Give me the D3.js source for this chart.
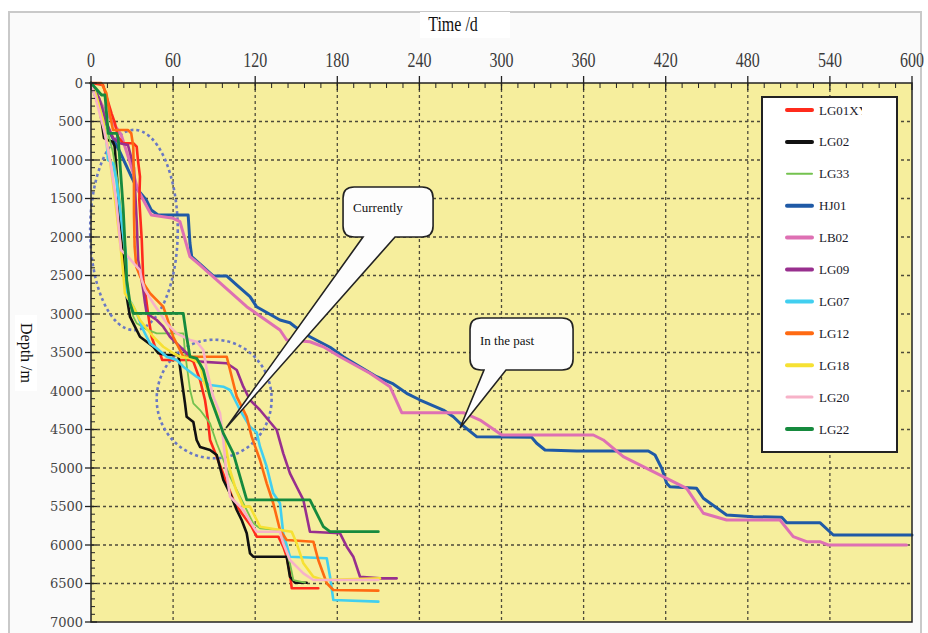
<!DOCTYPE html>
<html><head><meta charset="utf-8">
<script src="https://cdn.jsdelivr.net/npm/d3@7"></script>
<style>body{margin:0;background:#fff}svg{display:block}</style>
</head><body>
<svg id="c" width="928" height="633"></svg>
<script>
// ---------------- data ----------------
const wells = ["LG01XY","LG02","LG33","HJ01","LB02","LG09","LG07","LG12","LG18","LG20","LG22"];
const xTicks = [0,60,120,180,240,300,360,420,480,540,600];
const yTicks = [0,500,1000,1500,2000,2500,3000,3500,4000,4500,5000,5500,6000,6500,7000];

const LG01XY = [[0,0],[8.8,26],[15,394],[17.5,523],[19.7,697],[23.4,783],[30.9,783],[33.4,827],[34.3,1000],[35.8,1217],[35.3,1519],[37.1,2039],[38.2,2558],[39.5,2700],[41,2900],[42,3035],[43.1,3165],[44.3,3295],[46.8,3425],[50.4,3510],[52,3597],[72.4,3597],[74.8,3619],[79.7,3857],[83.3,4117],[85.5,4377],[87,4636],[91.9,4853],[99.2,5199],[104,5415],[110.1,5588],[117.4,5762],[121.1,5892],[136.9,5892],[140.5,6022],[143,6152],[145.4,6368],[146.7,6562],[166.1,6562]];
const LG02 = [[0,0],[6.6,351],[9.5,714],[12.4,740],[16.1,766],[17.3,827],[21.9,1909],[26.1,2775],[28.5,3035],[30.9,3121],[35.8,3295],[40.7,3360],[45.5,3425],[49.2,3510],[55.3,3532],[63.8,3532],[65,3684],[66.3,3857],[68.7,4160],[69.9,4334],[74.8,4403],[77.2,4636],[79.7,4727],[87,4766],[91.9,4831],[96.7,5156],[101.6,5329],[106.5,5545],[110.1,5675],[113.8,5848],[116.2,6108],[118.6,6152],[143,6152],[145.4,6412],[149.1,6490],[157.6,6490]];
const LG33 = [[0,0],[5,150],[10,400],[12.4,650],[16,900],[19.7,1300],[22.5,1800],[25,2300],[27,2700],[28.5,2861],[30.9,3035],[33.4,3121],[40.7,3200],[48,3251],[67.5,3251],[68.7,3500],[72.4,3987],[74.8,4160],[79.7,4247],[87,4420],[89.4,4549],[91.9,4679],[101.6,5113],[108.9,5372],[118.6,5718],[123.5,5783],[138.1,5805],[145.4,6238],[147.9,6455],[156.4,6490]];
const HJ01 = [[0,0],[3,150],[8,400],[14,650],[21,892],[29.5,1217],[34.3,1390],[40.4,1519],[44,1649],[49,1714],[71,1714],[72.3,2078],[73.6,2255],[89.3,2506],[99.1,2506],[106.4,2623],[116.2,2775],[121,2905],[138.1,3078],[145.4,3113],[149.1,3165],[160,3295],[174.7,3432],[184.4,3555],[196.6,3684],[208.8,3814],[220.9,3909],[230.7,4030],[240.5,4117],[257.5,4247],[264.8,4334],[269.7,4419],[281.8,4593],[322,4601],[325.7,4679],[331.8,4766],[355,4779],[407.3,4779],[412.2,4831],[417.1,5004],[420.7,5199],[423.1,5243],[442.6,5264],[447.5,5393],[464.5,5610],[484,5632],[504.8,5640],[508.4,5710],[532.7,5710],[542.5,5870],[600,5870]];
const LB02 = [[0,0],[4,150],[10,350],[17.3,545],[22.1,675],[29.5,1087],[34.3,1390],[44.1,1714],[60.1,1757],[65,1801],[72.3,2256],[79.7,2364],[90.6,2536],[113.8,2905],[138.1,3208],[143,3338],[160,3360],[169.8,3425],[182,3555],[203.9,3770],[218.5,3944],[227.1,4282],[272.1,4282],[284.3,4377],[300.2,4571],[367.1,4571],[374.4,4636],[389,4853],[420.7,5134],[435.3,5264],[447.5,5588],[464.5,5675],[503.5,5675],[513.2,5892],[523,5957],[532.7,5957],[538.8,6000],[596,6000]];
const LG09 = [[0,0],[6,200],[11,500],[16.1,714],[21,783],[27,805],[31.4,1100],[33.4,1800],[34.5,2300],[35.8,2429],[38.2,2688],[39.5,2861],[40.7,2991],[48,3078],[52.8,3165],[57.7,3295],[62.6,3381],[69.9,3510],[72.4,3575],[79.7,3619],[99.2,3640],[106.5,3727],[111.3,3944],[116.2,4117],[123.5,4247],[135.7,4506],[140.5,4809],[145.4,5069],[150.3,5243],[155.2,5415],[160,5827],[182,5848],[186.9,6022],[191.7,6152],[196.6,6412],[211.2,6433],[223.4,6433]];
const LG07 = [[0,0],[1.5,26],[7.5,394],[11.2,697],[12.4,1000],[16.1,1043],[18.5,1260],[21,1607],[23.4,1952],[25.8,2256],[26.1,2775],[29.7,2861],[33.4,2991],[38.2,3208],[43.1,3381],[48,3445],[55.3,3555],[62.6,3597],[67.5,3684],[77.2,3814],[87,3922],[96.7,3944],[101.6,3987],[108.9,4247],[116.2,4464],[121.1,4540],[123.5,4723],[128.4,4983],[133.2,5329],[138.1,5458],[140.5,5848],[145.4,6152],[172.3,6173],[174.7,6412],[177.1,6714],[210,6736]];
const LG12 = [[0,0],[7.5,0],[11.2,130],[13.6,394],[16.1,610],[27,610],[29.4,653],[30.9,827],[31.4,1300],[31.4,1692],[31.9,2126],[33.1,2386],[35.8,2506],[38.2,2597],[43.1,2731],[50.4,2861],[52.8,2905],[55.3,3035],[60.1,3295],[67.5,3555],[99.2,3555],[101.6,3727],[106.5,4074],[113.8,4334],[117.4,4593],[123.5,4896],[128.4,5199],[133.2,5458],[138.1,5805],[143,5935],[162.5,5957],[166.1,6195],[172.3,6497],[177.1,6584],[210,6593]];
const LG18 = [[0,0],[3.7,156],[8.8,481],[13.9,1000],[18.5,1649],[21.9,2169],[23.4,2429],[24.8,2731],[30.9,2905],[35.8,3078],[45.5,3295],[52.8,3425],[60.1,3510],[65,3555],[72.4,3575],[79.7,3640],[82.1,3857],[87,4074],[91.9,4290],[96.7,4549],[101.6,5026],[106,5286],[111.3,5502],[116.2,5502],[123.5,5762],[138.1,5805],[146.7,5827],[150.3,5978],[155.2,6238],[162.5,6412],[169.8,6455],[211.2,6433]];
const LG20 = [[0,0],[3.7,221],[9.5,610],[13.9,1000],[18.3,1519],[21.9,2169],[27,2256],[32.1,2360],[35.8,2429],[37.1,2558],[39.5,2688],[45.5,2861],[50.4,2991],[55.3,3121],[62.6,3251],[72.4,3338],[77.2,3360],[82.1,3468],[84.6,3727],[89.4,4074],[94.3,4290],[96.7,4636],[98.7,5026],[101.6,5372],[111.3,5545],[118.6,5762],[121.1,5827],[138.1,5827],[140.5,5978],[145.4,6195],[155.2,6368],[162.5,6455],[210,6455]];
const LG22 = [[0,0],[7.7,156],[10.2,156],[12.6,653],[18.8,653],[19.9,718],[23.6,1649],[26.1,2558],[28.5,2861],[30.9,2991],[67.4,2991],[69.9,3295],[72.3,3555],[77.2,3575],[82.1,3727],[87,4074],[96.7,4549],[104,4809],[108.9,5113],[113.8,5415],[160,5415],[169.8,5762],[174.7,5827],[210,5827]];

const seriesValues = [LG01XY,LG02,LG33,HJ01,LB02,LG09,LG07,LG12,LG18,LG20,LG22];
const colors = ["#ff2b1c","#111111","#74c24f","#1f5aa6","#de70b3","#982f8e","#41cff0","#ff6a12","#f6e133","#f7b2c8","#168a3e"];
const widths = [2.6,2.6,1.8,3,3,2.6,2.6,2.6,2.6,2.6,2.8];

// ---------------- layout ----------------
const svg = d3.select("#c");
const x = d3.scaleLinear().domain([0,600]).range([91,912]);
const y = d3.scaleLinear().domain([0,7000]).range([83,622]);

svg.append("rect").attr("x",9).attr("y",12).attr("width",912).attr("height",640)
  .attr("fill","#fafafa").attr("stroke","#c9c9c9").attr("stroke-width",2);

// plot background
svg.append("rect").attr("x",x(0)).attr("y",y(0)).attr("width",x(600)-x(0)).attr("height",y(7000)-y(0))
  .attr("fill","#f6ee9d");

// grid
const grid = svg.append("g").attr("stroke","#4d4a3a").attr("stroke-width",1.3).attr("stroke-dasharray","3,3");
grid.selectAll(".gx").data(xTicks.slice(1,-1)).join("line")
  .attr("x1",d=>x(d)).attr("x2",d=>x(d)).attr("y1",y(0)).attr("y2",y(7000));
grid.selectAll(".gy").data(yTicks.slice(1,-1)).join("line")
  .attr("y1",d=>y(d)).attr("y2",d=>y(d)).attr("x1",x(0)).attr("x2",x(600));

// ellipses (dotted)
const ell = svg.append("g").attr("fill","none").attr("stroke","#6a78c4").attr("stroke-width",2.6).attr("stroke-dasharray","3,3");
ell.append("ellipse").attr("cx",x(31.4)).attr("cy",y(1909)).attr("rx",x(32)-x(0)).attr("ry",y(1300)-y(0));
ell.append("ellipse").attr("cx",x(90)).attr("cy",y(4104)).attr("rx",x(42)-x(0)).attr("ry",y(770)-y(0));

// lines
const line = d3.line().x(d=>x(d[0])).y(d=>y(d[1]));
const lg = svg.append("g").attr("fill","none").attr("stroke-linejoin","round").attr("stroke-linecap","round");
// draw long-duration wells first, then others on top
const order = [3,4,0,1,2,5,6,7,8,9,10];
order.forEach(i=>{
  lg.append("path").attr("d",line(seriesValues[i])).attr("stroke",colors[i]).attr("stroke-width",widths[i]);
});

// plot border
svg.append("rect").attr("x",x(0)).attr("y",y(0)).attr("width",x(600)-x(0)).attr("height",y(7000)-y(0))
  .attr("fill","none").attr("stroke","#222").attr("stroke-width",1.5);

// top axis ticks
const ax = svg.append("g").attr("stroke","#222");
const xMinor = d3.range(0,601,12).filter(v=>v%60!==0);
ax.selectAll(".tx").data(xTicks).join("line").attr("x1",d=>x(d)).attr("x2",d=>x(d)).attr("y1",y(0)-7).attr("y2",y(0)+7).attr("stroke-width",1.3);
ax.selectAll(".tmx").data(xMinor).join("line").attr("x1",d=>x(d)).attr("x2",d=>x(d)).attr("y1",y(0)).attr("y2",y(0)+5).attr("stroke-width",1);
const yMinor = d3.range(0,7001,100).filter(v=>v%500!==0);
ax.selectAll(".ty").data(yTicks).join("line").attr("y1",d=>y(d)).attr("y2",d=>y(d)).attr("x1",x(0)-6).attr("x2",x(0)+6).attr("stroke-width",1.3);
ax.selectAll(".tmy").data(yMinor).join("line").attr("y1",d=>y(d)).attr("y2",d=>y(d)).attr("x1",x(0)).attr("x2",x(0)+4).attr("stroke-width",1);

// tick labels
svg.append("g").selectAll("text").data(xTicks).join("text")
  .attr("transform",d=>`translate(${x(d)},${y(0)-16}) scale(1,1.3)`)
  .attr("text-anchor","middle").attr("font-family","Liberation Serif, serif").attr("font-size",16)
  .attr("fill","#3a3a3a").text(d=>d);
svg.append("g").selectAll("text").data(yTicks).join("text")
  .attr("x",x(0)-8).attr("y",d=>y(d)).attr("dy","0.36em")
  .attr("text-anchor","end").attr("font-family","DejaVu Serif, serif").attr("font-size",13)
  .attr("fill","#444").text(d=>d);

// axis titles with white boxes
svg.append("rect").attr("x",420).attr("y",12).attr("width",90).attr("height",26).attr("fill","#fff");
svg.append("text").attr("transform","translate(453,31) scale(1,1.25)").attr("text-anchor","middle")
  .attr("font-family","Liberation Serif, serif").attr("font-size",16).attr("fill","#111").text("Time /d");
svg.append("rect").attr("x",15).attr("y",315).attr("width",22).attr("height",76).attr("fill","#fff");
svg.append("text").attr("transform","translate(21,353) rotate(90)").attr("text-anchor","middle")
  .attr("font-family","Liberation Serif, serif").attr("font-size",16).attr("fill","#111").text("Depth /m");

// callouts
function callout(x0,y0,x1,y1,bx1,bx2,tx,ty,r){
  return `M${x0+r},${y0}H${x1-r}Q${x1},${y0} ${x1},${y0+r}V${y1-r}Q${x1},${y1} ${x1-r},${y1}H${bx2}L${tx},${ty}L${bx1},${y1}H${x0+r}Q${x0},${y1} ${x0},${y1-r}V${y0+r}Q${x0},${y0} ${x0+r},${y0}Z`;
}
const co = svg.append("g");
co.append("path").attr("d",callout(x(184.2),y(1350),x(250),y(2000),x(198.8),x(222.2),x(98.7),y(4480),11))
  .attr("fill","#fdfdfd").attr("stroke","#222").attr("stroke-width",1.6);
co.append("text").attr("x",x(184.2)+10).attr("y",y(1350)+25).attr("font-family","Liberation Serif, serif")
  .attr("font-size",13).attr("fill","#111").text("Currently");
co.append("path").attr("d",callout(x(277),y(3052),x(352.3),y(3727),x(287.2),x(303.3),x(269.7),y(4480),11))
  .attr("fill","#fdfdfd").attr("stroke","#222").attr("stroke-width",1.6);
co.append("text").attr("x",x(277)+10).attr("y",y(3052)+27).attr("font-family","Liberation Serif, serif")
  .attr("font-size",13).attr("fill","#111").text("In the past");

// legend
const leg = svg.append("g");
leg.append("rect").attr("x",762).attr("y",97).attr("width",135).attr("height",355)
  .attr("fill","#fff").attr("stroke","#222").attr("stroke-width",2);
svg.append("clipPath").attr("id","lc").append("rect").attr("x",762).attr("y",97).attr("width",100).attr("height",355);
wells.forEach((n,i)=>{
  const yy = 110 + i*31.9;
  leg.append("line").attr("x1",787).attr("x2",812).attr("y1",yy).attr("y2",yy)
    .attr("stroke",colors[i]).attr("stroke-width",i===2?2:(i===9?3:4)).attr("stroke-linecap","round");
  leg.append("text").attr("x",819).attr("y",yy).attr("dy","0.35em").attr("clip-path","url(#lc)")
    .attr("font-family","Liberation Serif, serif").attr("font-size",13).attr("fill","#1a1a2a").text(n);
});
</script>
</body></html>
